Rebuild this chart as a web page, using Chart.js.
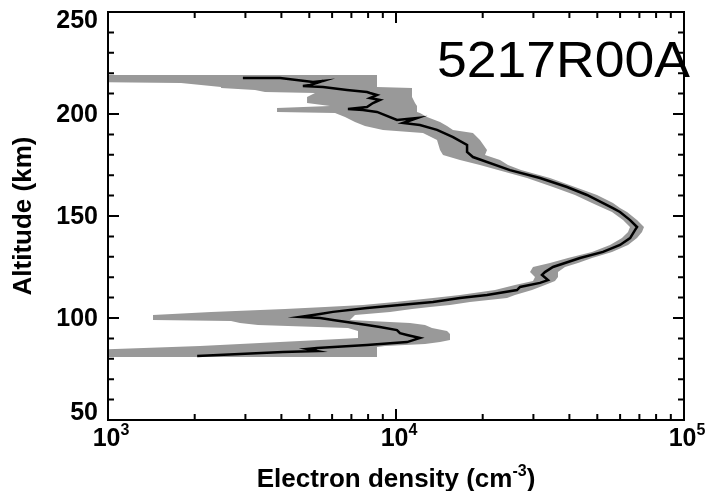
<!DOCTYPE html>
<html>
<head>
<meta charset="utf-8">
<script src="https://cdn.jsdelivr.net/npm/chart.js@4.4.1/dist/chart.umd.min.js"></script>
<style>
  html, body { margin: 0; padding: 0; background: #fff; }
  #wrap { width: 705px; height: 491px; }
</style>
</head>
<body>
<div id="wrap"><canvas id="chart" width="705" height="491"></canvas></div>
<script>
// electron density profile (black line), top to bottom
const lineAlt = [217.6, 217.6, 215.7, 216.2, 214.2, 213.7, 213.2, 211.8, 210.8, 210.3, 209.3, 207.8,
  206.9, 205.4, 203.4, 202.5, 202.0, 201.0, 197.1, 197.5, 198.0, 195.6, 194.6, 192.2, 188.7, 184.8,
  181.4, 178.9, 172.5, 168.6, 164.2, 160.3, 153.9, 152.0, 148.0, 144.6, 143.1, 139.2, 135.8, 132.4,
  129.4, 125.0, 122.5, 121.1, 118.6, 117.2, 115.2, 113.7, 111.3, 109.8, 107.8, 106.4, 104.9, 103.0,
  102.0, 100.5, 100.0, 99.0, 96.6, 95.6, 94.1, 92.6, 91.7, 90.2, 88.2, 86.8, 85.3, 84.8, 83.8, 83.3,
  82.4, 81.4];
const lineDensity = [2940, 3960, 5150, 5580, 5030, 4750, 5580, 6760, 7930, 8120, 8590, 8120,
  8790, 8320, 7930, 6810, 7680, 8590, 10080, 10920, 11830, 10570, 12110, 13880, 15780, 17650,
  17650, 18500, 24880, 31620, 39250, 46030, 56640, 59950, 64990, 68710, 67580, 64990, 59950, 52330,
  43550, 35080, 32890, 32130, 33710, 31620, 26960, 26310, 20700, 16670, 13440, 10320, 7930, 6040,
  5450, 4640, 5450, 6040, 7930, 8790, 10080, 10320, 10920, 12110, 10920, 7930, 5320, 4910, 5320, 4050,
  2870, 2040];

// uncertainty band (grey), top to bottom
const bandAlt = [219.1, 215.7, 215.2, 213.2, 212.7, 211.8, 210.8, 210.3, 208.3, 205.4, 203.9, 202.9,
  201.0, 200.5, 198.5, 196.1, 194.1, 192.2, 190.7, 187.3, 182.4, 179.9, 177.5, 175.0, 172.5, 168.6,
  164.2, 160.3, 156.4, 153.9, 152.0, 148.0, 144.6, 142.2, 139.2, 135.8, 132.4, 129.4, 127.0, 125.0,
  122.5, 120.1, 118.1, 116.2, 113.7, 111.3, 109.8, 107.8, 106.4, 105.4, 104.4, 103.0, 101.5, 99.0,
  98.5, 97.5, 96.6, 95.1, 93.6, 92.2, 90.2, 89.2, 88.2, 87.3, 86.3, 85.8, 84.3, 80.9];
const bandLow = [866, 866, 1793, 2469, 2469, 3239, 3510, 5233, 4911, 4911, 5900, 3863,
  3863, 6141, 6652, 7204, 7804, 9013, 12409, 13881, 14218, 14563, 16681, 19568, 22605, 28502,
  35082, 41825, 47925, 52335, 56234, 61404, 64946, 63915, 60911, 55344, 47925, 39555, 34249, 29903,
  29195, 30384, 29903, 25892, 22072, 16681, 13443, 9920, 7680, 5669, 4117, 2279, 1433, 1433,
  2674, 2873, 3318, 6813, 7380, 7380, 7380, 5446, 3955, 2873, 2087, 1668, 866, 866];
const bandHigh = [8590, 8590, 8590, 8590, 11365, 11365, 11365, 11365, 11365, 11641, 11829, 11829,
  11829, 12115, 12812, 14218, 15036, 15771, 18504, 19568, 20701, 20370, 22967, 24484, 27164, 34249,
  41825, 49878, 56685, 59948, 63404, 68680, 72630, 71481, 68680, 63915, 56234, 47925, 42839, 38620,
  36517, 36517, 35648, 32911, 29665, 25892, 24289, 18064, 15399, 13125, 11365, 9532, 7204, 6923,
  8121, 11185, 12610, 13335, 15036, 15399, 15399, 15399, 14218, 12610, 9158, 8590, 8590, 8590];

const yTicks = [50, 100, 150, 200, 250];
const yMinorTicks = [60, 70, 80, 90, 110, 120, 130, 140, 160, 170, 180, 190, 210, 220, 230, 240];
const xTicks = [1e3, 1e4, 1e5];
const xTickExponents = ['3', '4', '5'];
const xMinorTicks = [2e3, 3e3, 4e3, 5e3, 6e3, 7e3, 8e3, 9e3, 2e4, 3e4, 4e4, 5e4, 6e4, 7e4, 8e4, 9e4];
const profileLabel = '5217R00A';

const FONT = '"Liberation Sans", Arial, Helvetica, sans-serif';

const linePoints = lineAlt.map((a, i) => ({ x: lineDensity[i], y: a }));
const bandPoints = bandAlt.map((a, i) => ({ x: bandLow[i], y: a }))
  .concat(bandAlt.map((a, i) => ({ x: bandHigh[i], y: a })).reverse());

const framePlugin = {
  id: 'frame',
  afterDatasetsDraw(chart) {
    const { ctx, chartArea: a, scales: { x, y } } = chart;
    ctx.save();
    ctx.strokeStyle = '#000';
    ctx.lineWidth = 2;
    ctx.strokeRect(a.left, a.top, a.right - a.left, a.bottom - a.top);
    ctx.beginPath();
    xTicks.concat(xMinorTicks).forEach(v => {
      const px = x.getPixelForValue(v);
      const len = xTicks.includes(v) ? 11 : 6;
      ctx.moveTo(px, a.bottom); ctx.lineTo(px, a.bottom - len);
      ctx.moveTo(px, a.top); ctx.lineTo(px, a.top + len);
    });
    yTicks.concat(yMinorTicks).forEach(v => {
      const py = y.getPixelForValue(v);
      const len = yTicks.includes(v) ? 11 : 6;
      ctx.moveTo(a.left, py); ctx.lineTo(a.left + len, py);
      ctx.moveTo(a.right, py); ctx.lineTo(a.right - len, py);
    });
    ctx.stroke();

    ctx.fillStyle = '#000';

    // y tick labels, kept inside the axis range like the original
    ctx.font = 'bold 25px ' + FONT;
    ctx.textAlign = 'right';
    ctx.textBaseline = 'middle';
    yTicks.forEach(v => {
      const py = Math.min(Math.max(y.getPixelForValue(v), a.top + 8), a.bottom - 8);
      ctx.fillText(String(v), a.left - 10, py + 1);
    });

    // x tick labels 10^n
    ctx.textBaseline = 'alphabetic';
    ctx.textAlign = 'left';
    xTicks.forEach((v, i) => {
      const px = x.getPixelForValue(v);
      ctx.font = 'bold 25px ' + FONT;
      const wBase = ctx.measureText('10').width;
      ctx.font = 'bold 16px ' + FONT;
      const wExp = ctx.measureText(xTickExponents[i]).width;
      const left = px - (wBase + wExp) / 2 + 3;
      ctx.font = 'bold 25px ' + FONT;
      ctx.fillText('10', left, 446);
      ctx.font = 'bold 16px ' + FONT;
      ctx.fillText(xTickExponents[i], left + wBase, 435);
    });

    // x axis title with superscript
    const parts = [['Electron density (cm', 26, 0], ['-3', 16, -11], [')', 26, 0]];
    let total = 0;
    parts.forEach(p => { ctx.font = 'bold ' + p[1] + 'px ' + FONT; total += ctx.measureText(p[0]).width; });
    let cx = (a.left + a.right) / 2 - total / 2;
    parts.forEach(p => {
      ctx.font = 'bold ' + p[1] + 'px ' + FONT;
      ctx.fillText(p[0], cx, 487 + p[2]);
      cx += ctx.measureText(p[0]).width;
    });

    // profile id
    ctx.font = '50px ' + FONT;
    const w = ctx.measureText(profileLabel).width;
    ctx.translate(437, 77);
    ctx.scale(253 / w, 1);
    ctx.fillText(profileLabel, 0, 0);
    ctx.restore();
  }
};

new Chart(document.getElementById('chart'), {
  type: 'scatter',
  data: {
    datasets: [{
      label: 'density',
      data: linePoints,
      showLine: true,
      borderColor: '#000',
      borderWidth: 2.5,
      pointRadius: 0,
      fill: false
    }, {
      label: 'error',
      data: bandPoints,
      showLine: true,
      borderColor: 'rgba(0,0,0,0)',
      borderWidth: 0,
      backgroundColor: '#999999',
      pointRadius: 0,
      fill: 'shape'
    }]
  },
  options: {
    responsive: false,
    animation: false,
    devicePixelRatio: 1,
    layout: { padding: { top: 12, right: 21, bottom: 0, left: 0 } },
    plugins: {
      legend: { display: false },
      tooltip: { enabled: false }
    },
    scales: {
      x: {
        type: 'logarithmic',
        min: 1000,
        max: 100000,
        grid: { display: false },
        border: { display: false },
        ticks: { display: false },
        afterFit: s => { s.height = 71; s.paddingLeft = 0; s.paddingRight = 0; }
      },
      y: {
        type: 'linear',
        min: 50,
        max: 250,
        grid: { display: false },
        border: { display: false },
        ticks: { display: false, stepSize: 50 },
        title: {
          display: true,
          text: 'Altitude (km)',
          color: '#000',
          padding: { top: 8, bottom: 0 },
          font: { family: FONT, size: 26, weight: 'bold' }
        },
        afterFit: s => { s.width = 108; s.paddingTop = 0; s.paddingBottom = 0; }
      }
    }
  },
  plugins: [framePlugin]
});
</script>
</body>
</html>
